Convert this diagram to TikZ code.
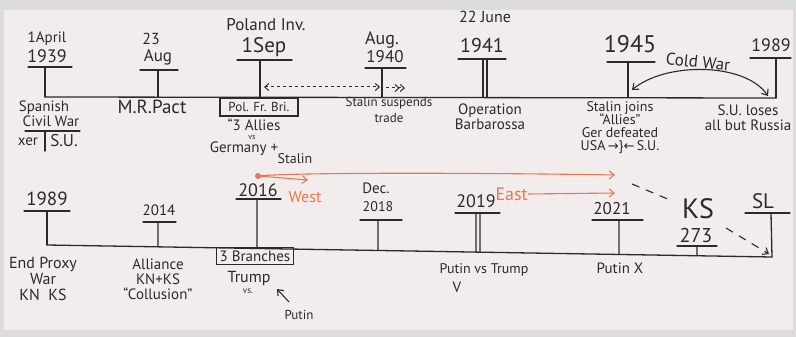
\documentclass[tikz,border=0pt]{standalone}
\usepackage{fontspec}
\setmainfont{PT Sans}
\newfontfamily\symfont{DejaVu Sans}
\usetikzlibrary{arrows.meta,calc}
\definecolor{board}{HTML}{F2ECEC}
\definecolor{frame}{HTML}{DCDCDC}
\definecolor{ink}{HTML}{2A2A2A}
\definecolor{marker}{HTML}{E8784F}
\newcommand{\fs}[1]{\fontsize{#1}{#1}\selectfont}
\begin{document}
\begin{tikzpicture}[x=1pt,y=-1pt,
  inkline/.style={draw=ink, line width=1.3pt, line cap=round},
  lbl/.style={text=ink, inner sep=0pt, align=center, font=\fs{14}},
  yr/.style={lbl, font=\fs{#1}},
  orange/.style={draw=marker, line width=1.1pt, -{Straight Barb[length=5pt,width=8pt]}},
  otext/.style={text=marker, inner sep=0pt, font=\fs{16}},
  boxed/.style={lbl, draw=ink, line width=1.1pt, minimum height=18pt, inner xsep=3pt}]
\useasboundingbox (0,0) rectangle (796,337);
\fill[frame] (0,0) rectangle (796,337);
\fill[board] (4,10) rectangle (793,330);

%% ---------- top timeline ----------
\coordinate (tL) at (45,97); \coordinate (tR) at (776,98);
\draw[inkline] (tL) -- (tR);

% 1939
\node[yr=15] (d1939) at (47,39) {1April};
\node[yr=18] (y1939) at (47,56) {1939};
\coordinate (a1939) at (28,67); \coordinate (b1939) at (72,67); \coordinate (k1939) at (45,67);
\draw[inkline] (a1939) -- (b1939); \draw[inkline] (k1939) -- (k1939 |- tL);
% 23 Aug
\node[yr=16] (d23) at (151,39) {23};
\node[yr=17] (aug39) at (158,57) {Aug};
\coordinate (aAug) at (140,70); \coordinate (bAug) at (178,70); \coordinate (kAug) at (158,70);
\draw[inkline] (aAug) -- (bAug); \draw[inkline] (kAug) -- (kAug |- tL);
% 1 Sep
\node[yr=17] (poland) at (266,25) {Poland Inv.};
\node[yr=21] (sep) at (264,47) {1Sep};
\coordinate (aSep) at (237,60); \coordinate (bSep) at (292,60); \coordinate (kSep) at (260,60);
\draw[inkline] (aSep) -- (bSep); \draw[inkline] (kSep) -- (kSep |- tL);
% Aug 1940
\node[yr=18] (aug40) at (382,40) {Aug.};
\node[yr=17] (y1940) at (385,57) {1940};
\coordinate (a1940) at (365,68); \coordinate (b1940) at (406,68); \coordinate (k1940) at (382,68);
\draw[inkline] (a1940) -- (b1940); \draw[inkline] (k1940) -- (k1940 |- tL);
% 1941
\node[yr=16] (june) at (485,17) {22 June};
\node[yr=20] (y1941) at (482,46) {1941};
\coordinate (a1941) at (458,59); \coordinate (b1941) at (506,59);
\coordinate (k1941a) at (483,59); \coordinate (k1941b) at (487,59);
\draw[inkline] (a1941) -- (b1941);
\draw[inkline] (k1941a) -- (k1941a |- tL); \draw[inkline] (k1941b) -- (k1941b |- tL);
% 1945
\node[yr=24] (y1945) at (630,44) {1945};
\coordinate (a1945) at (607,62); \coordinate (b1945) at (655,62); \coordinate (k1945) at (628,62);
\draw[inkline] (a1945) -- (b1945); \draw[inkline] (k1945) -- (k1945 |- tL);
% 1989
\node[yr=18] (y1989t) at (771,45) {1989};
\coordinate (a1989t) at (750,58); \coordinate (b1989t) at (791,58); \coordinate (k1989t) at (776,58);
\draw[inkline] (a1989t) -- (b1989t); \draw[inkline] (k1989t) -- (tR);

% dashed arrows
\coordinate (dsA) at (264,87); \coordinate (dsB) at (380,87);
\draw[draw=ink, line width=1pt, dashed, {Straight Barb[length=4pt,width=7pt]}-{Straight Barb[length=4pt,width=7pt]}] (dsA) -- (dsB);
\coordinate (dsC) at (386,88); \coordinate (dsD) at (405,88);
\draw[draw=ink, line width=1pt, dashed, -{Straight Barb[length=4pt,width=7pt] Straight Barb[length=4pt,width=7pt]}] (dsC) -- (dsD);

% Cold War
\coordinate (cwR) at (768,96); \coordinate (cwL) at (632,90);
\draw[draw=ink, line width=1.1pt, {Straight Barb[length=5pt,width=8pt]}-{Straight Barb[length=5pt,width=8pt]}] (cwL) .. controls (665,62) and (745,62) .. (cwR);
\node[lbl, font=\fs{17}, rotate=-6] (cold) at (698,62) {Cold War};

% labels below top line
\node[yr=15] (spanish) at (44,108) {Spanish};
\node[yr=15] (civil) at (51,121) {Civil War};
\coordinate (cwa) at (25,131); \coordinate (cwb) at (80,131);
\draw[inkline, line width=1.1pt] (cwa) -- (cwb);
\coordinate (sv1) at (45,131); \coordinate (sv2) at (45,151);
\draw[inkline, line width=1.1pt] (sv1) -- (sv2);
\node[yr=15] (xer) at (28,142) {xer};
\node[yr=17] (su39) at (64,141) {S.U.};
\node[yr=19] (mr) at (152,107) {M.R.Pact};
\node[boxed, font=\fs{13}, minimum width=78pt] (pfb) at (259,107) {Pol. Fr. Bri.};
\node[yr=15] (allies3) at (254,125) {“3 Allies};
\node[yr=8] (vs39) at (252,137.5) {vs};
\node[yr=15] (germany) at (244,149) {Germany +};
\node[yr=14] (stalin39) at (295,159) {Stalin};
\node[yr=13] (susp) at (389,110) {Stalin suspends\\[3pt]trade};
\node[yr=15] (oper) at (490,117) {Operation\\Barbarossa};
\node[yr=14] (joins) at (620,128) {Stalin joins\\[-1pt]“Allies”\\[-1pt]Ger defeated\\[-1pt]USA\,{\symfont\fs{13}→}\}{\symfont\fs{13}←}\,S.U.};
\node[yr=15] (loses) at (748,118) {S.U. loses\\all but Russia};

%% ---------- bottom timeline ----------
\coordinate (bL) at (47,245); \coordinate (bR) at (772,257);
\draw[inkline] (bL) -- (bR);
% 1989
\node[yr=19] (y1989b) at (47,199) {1989};
\coordinate (a1989b) at (24,211); \coordinate (b1989b) at (70,211); \coordinate (k1989b) at (47,211);
\draw[inkline] (a1989b) -- (b1989b); \draw[inkline] (k1989b) -- (bL);
% 2014
\node[yr=15] (y2014) at (159,210) {2014};
\coordinate (a2014) at (143,222); \coordinate (b2014) at (176,222); \coordinate (k2014) at (158,222);
\coordinate (m2014) at ($(bL)!{(158-47)/725}!(bR)$);
\draw[inkline] (a2014) -- (b2014); \draw[inkline] (k2014) -- (m2014);
% 2016
\node[yr=18] (y2016) at (258,190) {2016};
\coordinate (a2016) at (236,199); \coordinate (b2016) at (281,199); \coordinate (k2016) at (257,199);
\coordinate (m2016) at ($(bL)!{(257-47)/725}!(bR)$);
\draw[inkline] (a2016) -- (b2016); \draw[inkline] (k2016) -- (m2016);
% Dec 2018
\node[yr=15] (dec) at (376,188) {Dec.};
\node[yr=14] (y2018) at (378,207) {2018};
\coordinate (a2018) at (360,220); \coordinate (b2018) at (402,220); \coordinate (k2018) at (378,220);
\coordinate (m2018) at ($(bL)!{(378-47)/725}!(bR)$);
\draw[inkline] (a2018) -- (b2018); \draw[inkline] (k2018) -- (m2018);
% 2019
\node[yr=18] (y2019) at (476,201) {2019};
\coordinate (a2019) at (455,213); \coordinate (b2019) at (500,213);
\coordinate (k2019a) at (476,213); \coordinate (k2019b) at (480,213);
\coordinate (m2019a) at ($(bL)!{(476-47)/725}!(bR)$);
\coordinate (m2019b) at ($(bL)!{(480-47)/725}!(bR)$);
\draw[inkline] (a2019) -- (b2019);
\draw[inkline] (k2019a) -- (m2019a); \draw[inkline] (k2019b) -- (m2019b);
% 2021
\node[yr=17] (y2021) at (612,209) {2021};
\coordinate (a2021) at (592,220); \coordinate (b2021) at (643,220); \coordinate (k2021) at (619,220);
\coordinate (m2021) at ($(bL)!{(619-47)/725}!(bR)$);
\draw[inkline] (a2021) -- (b2021); \draw[inkline] (k2021) -- (m2021);
% 273
\node[yr=20] (n273) at (696,235) {273};
\coordinate (a273) at (677,246); \coordinate (b273) at (717,246); \coordinate (k273) at (697,246);
\coordinate (m273) at ($(bL)!{(697-47)/725}!(bR)$);
\draw[inkline] (a273) -- (b273); \draw[inkline] (k273) -- (m273);
% SL
\node[yr=21] (sl) at (763,201) {SL};
\coordinate (aSL) at (745,213); \coordinate (bSL) at (790,213); \coordinate (kSL) at (771,213);
\draw[inkline] (aSL) -- (bSL); \draw[inkline] (kSL) -- (bR);

% KS dashed path
\node[yr=28] (ks) at (698,209) {KS};
\coordinate (ksStart) at (632,184); \coordinate (ksA) at (670,200);
\coordinate (ksB) at (726,228); \coordinate (ksEnd) at (769,254);
\draw[draw=ink, line width=1.1pt, dash pattern=on 8pt off 7pt] (ksStart) -- (ksA);
\draw[draw=ink, line width=1.1pt, dash pattern=on 8pt off 7pt, -{Straight Barb[length=5pt,width=8pt]}] (ksB) -- (ksEnd);

% orange arrows
\node[circle, fill=marker, inner sep=0pt, minimum size=6pt] (dot) at (258,176) {};
\coordinate (westTip) at (308,180);
\coordinate (longTip) at (615,175);
\draw[orange] (dot.center) -- (westTip);
\draw[orange] (dot.center) .. controls (300,172) and (500,173) .. (longTip);
\node[otext] (west) at (305,197) {West};
\node[otext, anchor=east, font=\fs{18}] (east) at (528,194) {East};
\coordinate (eastTip) at (615,193);
\draw[orange] (east.east) -- (eastTip);

% labels below bottom line
\node[yr=16] (proxy) at (43,279) {End Proxy\\War\\KN~~KS};
\node[yr=15] (alliance) at (158,279) {Alliance\\KN+KS\\“Collusion”};
\node[boxed, font=\fs{15}, minimum width=76pt, minimum height=17pt] (branches) at (255,256) {3 Branches};
\node[yr=16] (trump) at (249,278) {Trump};
\node[yr=9] (vs16) at (248,291) {vs.};
\node[yr=13] (putin16) at (299,315) {Putin};
\coordinate (pFoot) at (289,302);
\coordinate (pTip) at (277,289);
\draw[draw=ink, line width=1.1pt, -{Straight Barb[length=5pt,width=8pt]}] (pFoot) -- (pTip);
\node[yr=14] (pvt) at (484,270) {Putin vs Trump};
\node[yr=15] (v19) at (457,287) {V};
\node[yr=15] (putx) at (620,268) {Putin X};
\end{tikzpicture}
\end{document}
